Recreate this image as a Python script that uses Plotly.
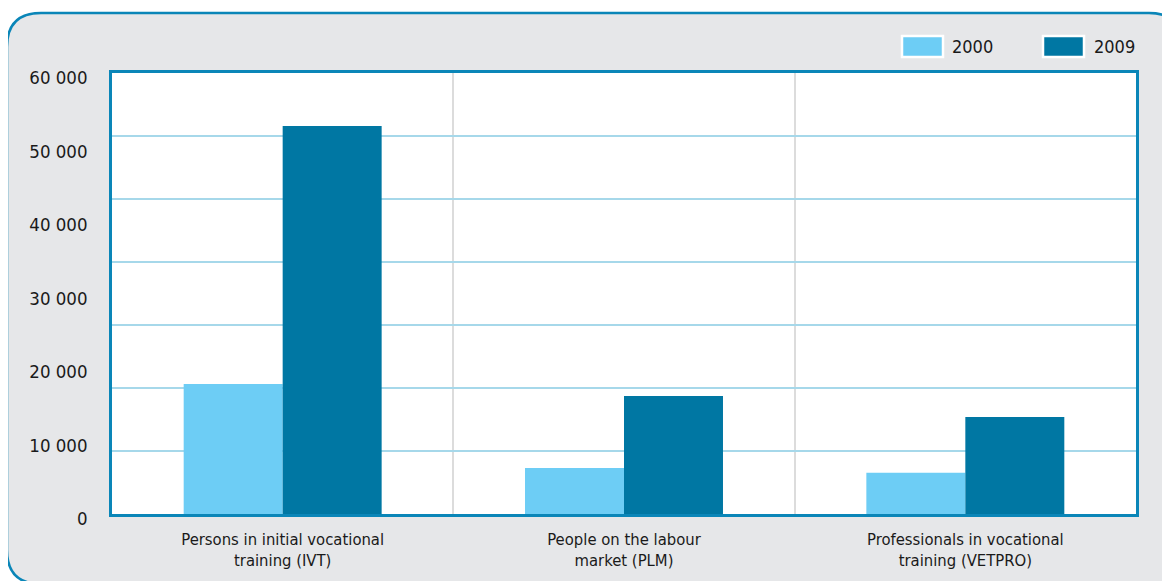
import plotly.graph_objects as go

categories = ["Persons in initial vocational<br>training (IVT)",
              "People on the labour<br>market (PLM)",
              "Professionals in vocational<br>training (VETPRO)"]
series_names = ["2000", "2009"]
values_2000 = [17700, 6250, 5600]
values_2009 = [52800, 16050, 13200]
y_tickvals = [0, 10000, 20000, 30000, 40000, 50000, 60000]
y_ticktext = ["0", "10 000", "20 000", "30 000", "40 000", "50 000", "60 000"]

OFF = 8  # page body margin
W, H = 1170 - OFF, 581 - OFF
L, R, T, B = 112 - OFF, 1136 - OFF, 73 - OFF, 514 - OFF
FONT = "DejaVu Sans Condensed, Liberation Sans Narrow, Roboto, Arial"
C2000 = "#6dcdf5"
C2009 = "#0077a3"
BORDER = "#0a86b8"
TXT = "#1a1a1a"

def px(x):
    return (x - OFF - L) / (R - L)

def py(y):
    return (B - (y - OFF)) / (B - T)

fig = go.Figure()
fig.add_trace(go.Bar(x=categories, y=values_2000, name=series_names[0],
                     marker=dict(color=C2000, line=dict(width=0)), showlegend=False))
fig.add_trace(go.Bar(x=categories, y=values_2009, name=series_names[1],
                     marker=dict(color=C2009, line=dict(width=0)), showlegend=False))
# helper trace for grid axis
fig.add_trace(go.Bar(x=[], y=[], yaxis="y2", showlegend=False, hoverinfo="skip"))

# rounded outer frame (reference pixel coords)
x0, y0, x1, y1, r = 7, 13, 1183, 584, 34
path = (f"M {px(x0+r)},{py(y0)} L {px(x1-r)},{py(y0)} "
        f"Q {px(x1)},{py(y0)} {px(x1)},{py(y0+r)} "
        f"L {px(x1)},{py(y1-r)} Q {px(x1)},{py(y1)} {px(x1-r)},{py(y1)} "
        f"L {px(x0+r)},{py(y1)} Q {px(x0)},{py(y1)} {px(x0)},{py(y1-r)} "
        f"L {px(x0)},{py(y0+r)} Q {px(x0)},{py(y0)} {px(x0+r)},{py(y0)} Z")
shapes = [
    dict(type="path", path=path, xref="paper", yref="paper",
         fillcolor="#e6e7e9", line=dict(color=BORDER, width=2.5), layer="below"),
    dict(type="rect", xref="paper", yref="paper", x0=0, x1=1, y0=0, y1=1,
         fillcolor="white", line=dict(width=0), layer="below"),
]

annotations = []
legend_pos = [(902, 950), (1043, 1092)]
for name, col, (sx, tx) in zip(series_names, [C2000, C2009], legend_pos):
    shapes.append(dict(type="rect", xref="paper", yref="paper",
                       x0=px(sx), x1=px(sx + 41), y0=py(57), y1=py(36),
                       fillcolor=col, line=dict(color="white", width=2.5)))
    annotations.append(dict(text=name, xref="paper", yref="paper", x=px(tx), y=py(46.5),
                            xanchor="left", yanchor="middle", showarrow=False,
                            font=dict(family=FONT, size=18, color=TXT)))

fig.update_layout(
    width=W, height=H,
    margin=dict(l=L, r=W - R, t=T, b=H - B, pad=0),
    paper_bgcolor="rgba(0,0,0,0)", plot_bgcolor="rgba(0,0,0,0)",
    barmode="group", bargap=0.42, bargroupgap=0,
    font=dict(family=FONT, size=18, color=TXT),
    shapes=shapes, annotations=annotations,
    xaxis=dict(type="category", tickson="boundaries", showgrid=True,
               gridcolor="#dcdcdc", gridwidth=2, ticks="", showline=True,
               linecolor=BORDER, linewidth=2.5, mirror=True,
               ticklabelstandoff=8, tickfont=dict(size=16.5)),
    yaxis=dict(range=[0, 60000], tickvals=y_tickvals, ticktext=y_ticktext,
               showgrid=False, zeroline=False, showline=True, linecolor=BORDER,
               linewidth=2.5, mirror=True, ticks="", ticklabelstandoff=18,
               ticklabelshift=5, tickfont=dict(size=18.5)),
    yaxis2=dict(range=[0, 60000], overlaying="y", tickvals=[60000 * i / 7 for i in range(1, 7)],
                showticklabels=False, showgrid=True, gridcolor="#a6d8ea", gridwidth=1.5,
                zeroline=False, showline=False, ticks=""),
    showlegend=False,
)

fig.write_html("out.html")
